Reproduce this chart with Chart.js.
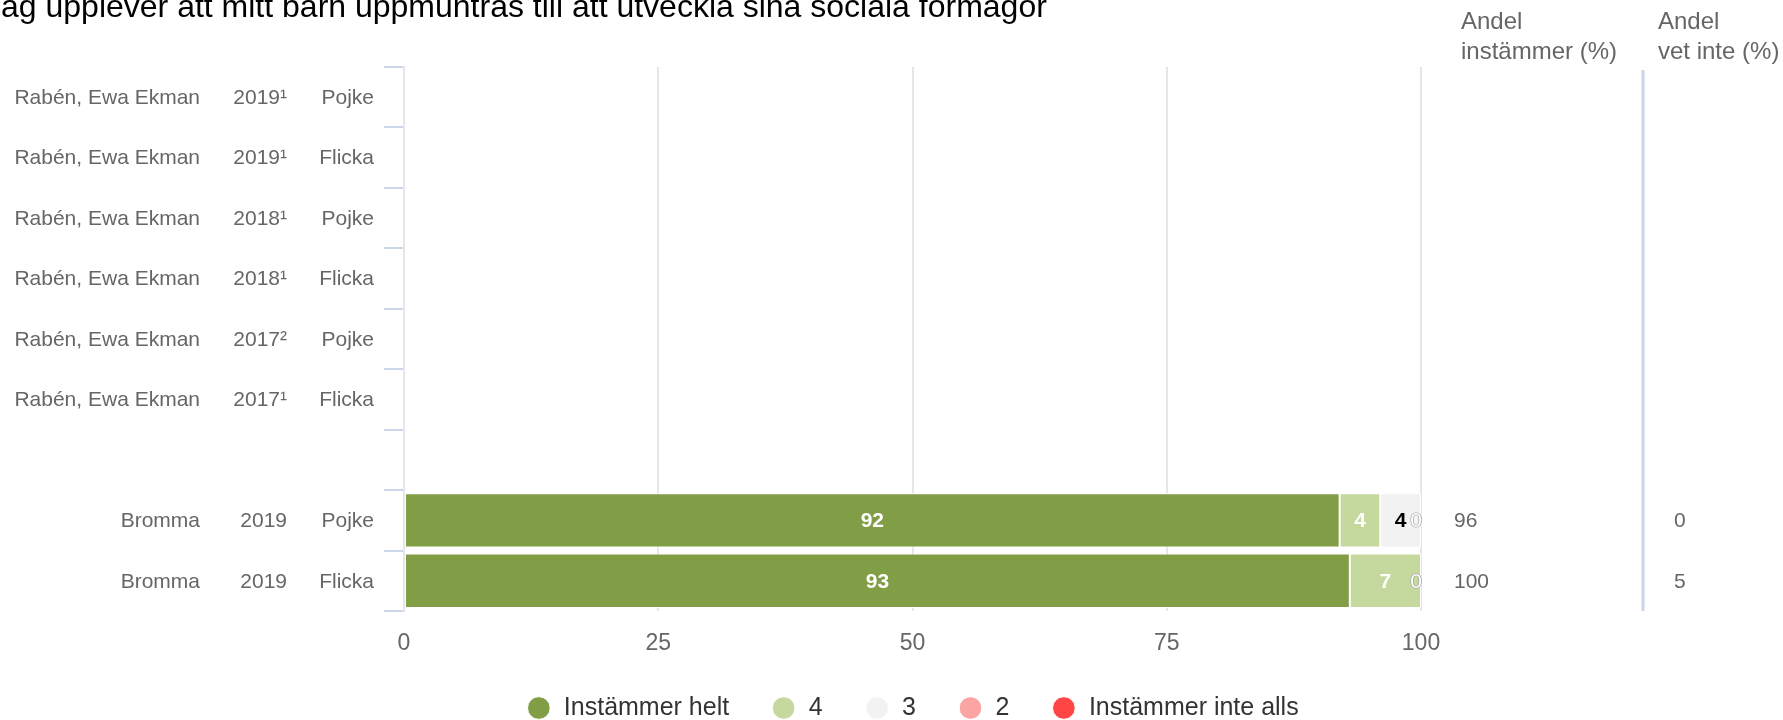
<!DOCTYPE html>
<html lang="sv">
<head>
  <meta charset="UTF-8">
  <meta name="viewport" content="width=device-width, initial-scale=1.0">
  <title>Sociala förmågor</title>
  <style>
    html, body { margin: 0; padding: 0; background: #fff; }
    #wrap { width: 1783px; height: 720px; }
  </style>
</head>
<body>
  <div id="wrap">
    <canvas id="myChart"></canvas>
  </div>

  <script src="https://cdn.jsdelivr.net/npm/chart.js"></script>

  <script>
    const title = 'Jag upplever att mitt barn uppmuntras till att utveckla sina sociala förmågor';

    // one entry per row, top to bottom (row 7 is the empty spacer)
    const names = ['Rabén, Ewa Ekman', 'Rabén, Ewa Ekman', 'Rabén, Ewa Ekman', 'Rabén, Ewa Ekman',
                   'Rabén, Ewa Ekman', 'Rabén, Ewa Ekman', '', 'Bromma', 'Bromma'];
    const years = ['2019¹', '2019¹', '2018¹', '2018¹', '2017²', '2017¹', '', '2019', '2019'];
    const genders = ['Pojke', 'Flicka', 'Pojke', 'Flicka', 'Pojke', 'Flicka', '', 'Pojke', 'Flicka'];

    const seriesNames = ['Instämmer helt', '4', '3', '2', 'Instämmer inte alls'];
    const seriesColors = ['#819d45', '#c5d89e', '#f2f2f2', '#faa4a4', '#ff4545'];

    const helt     = [null, null, null, null, null, null, null, 92, 93];
    const fyra     = [null, null, null, null, null, null, null, 4, 7];
    const tre      = [null, null, null, null, null, null, null, 4, 0];
    const tva      = [null, null, null, null, null, null, null, 0, 0];
    const inteAlls = [null, null, null, null, null, null, null, 0, 0];

    const andelInstammer = [null, null, null, null, null, null, null, 96, 100];
    const andelVetInte   = [null, null, null, null, null, null, null, 0, 5];

    const xTicks = [0, 25, 50, 75, 100];

    const FONT = '"Liberation Sans", Arial, Helvetica, sans-serif';

    const ctx = document.getElementById('myChart').getContext('2d');

    const rowLabels = names.map((n, i) => (n + ' ' + years[i] + ' ' + genders[i]).trim());

    const dataSets = [helt, fyra, tre, tva, inteAlls].map((values, i) => ({
      label: seriesNames[i],
      data: values,
      backgroundColor: seriesColors[i],
      borderColor: '#ffffff',
      borderWidth: 1,
      borderSkipped: false,
      barPercentage: 0.9,
      categoryPercentage: 1
    }));

    // title, partly cut off at the top left like the original
    const titlePlugin = {
      id: 'titlePlugin',
      afterDraw(chart) {
        const c = chart.ctx;
        c.save();
        c.font = '32px ' + FONT;
        c.fillStyle = '#000';
        c.textBaseline = 'alphabetic';
        c.textAlign = 'left';
        const jw = c.measureText('J').width;
        c.fillText(title, -jw + 1, 17);
        c.restore();
      }
    };

    // three label columns left of the axis
    const rowLabelPlugin = {
      id: 'rowLabelPlugin',
      afterDraw(chart) {
        const c = chart.ctx;
        const y = chart.scales.y;
        c.save();
        c.font = '21px ' + FONT;
        c.fillStyle = '#666';
        c.textAlign = 'right';
        c.textBaseline = 'middle';
        names.forEach((n, i) => {
          const py = y.getPixelForValue(i) + 1;
          c.fillText(n, 200, py);
          c.fillText(years[i], 287, py);
          c.fillText(genders[i], 374, py);
        });
        c.restore();
      }
    };

    // numbers inside the bars
    const barLabels = {
      id: 'barLabels',
      afterDatasetsDraw(chart) {
        const c = chart.ctx;
        c.save();
        c.textAlign = 'center';
        c.textBaseline = 'middle';
        chart.data.datasets.forEach((ds, di) => {
          const meta = chart.getDatasetMeta(di);
          meta.data.forEach((bar, i) => {
            const v = ds.data[i];
            if (v === null || v === undefined) return;
            if (v > 0) {
              c.font = 'bold 21px ' + FONT;
              c.fillStyle = di === 2 ? '#000' : '#fff';
              c.fillText(String(v), (bar.x + bar.base) / 2, bar.y + 1);
            } else if (di === 3) {
              c.font = '21px ' + FONT;
              c.lineWidth = 1.2;
              c.strokeStyle = '#999';
              c.strokeText('0', bar.x - 5, bar.y + 1);
              c.fillStyle = '#fff';
              c.fillText('0', bar.x - 5, bar.y + 1);
            }
          });
        });
        c.restore();
      }
    };

    // the two share columns on the right
    const sideColumns = {
      id: 'sideColumns',
      afterDraw(chart) {
        const c = chart.ctx;
        const y = chart.scales.y;
        const area = chart.chartArea;
        c.save();
        c.strokeStyle = '#c8d6e8';
        c.lineWidth = 3;
        c.beginPath();
        c.moveTo(1643, area.top + 3);
        c.lineTo(1643, area.bottom);
        c.stroke();

        c.font = '24px ' + FONT;
        c.fillStyle = '#666';
        c.textAlign = 'left';
        c.textBaseline = 'alphabetic';
        c.fillText('Andel', 1461, 29);
        c.fillText('instämmer (%)', 1461, 59);
        c.fillText('Andel', 1658, 29);
        c.fillText('vet inte (%)', 1658, 59);

        c.font = '21px ' + FONT;
        c.textBaseline = 'middle';
        andelInstammer.forEach((v, i) => {
          if (v === null) return;
          c.fillText(String(v), 1454, y.getPixelForValue(i) + 1);
        });
        andelVetInte.forEach((v, i) => {
          if (v === null) return;
          c.fillText(String(v), 1674, y.getPixelForValue(i) + 1);
        });
        c.restore();
      }
    };

    let chart = new Chart(ctx, {
      type: 'bar',
      data: {
        labels: rowLabels,
        datasets: dataSets
      },
      plugins: [titlePlugin, rowLabelPlugin, barLabels, sideColumns],
      options: {
        indexAxis: 'y',
        responsive: true,
        maintainAspectRatio: false,
        animation: false,
        layout: {
          padding: { top: 67, right: 362, left: 0, bottom: -10.5 }
        },
        scales: {
          x: {
            stacked: true,
            min: 0,
            max: 100,
            afterBuildTicks(axis) {
              axis.ticks = xTicks.map(v => ({ value: v }));
            },
            afterFit(axis) { axis.height = 42.5; },
            grid: { color: '#e6e6e6', lineWidth: 2, drawTicks: false },
            border: { display: false },
            ticks: {
              padding: 19,
              color: '#666',
              font: { size: 23, family: FONT }
            }
          },
          y: {
            stacked: true,
            afterFit(axis) { axis.width = 404; },
            grid: {
              offset: true,
              drawOnChartArea: false,
              color: '#ccd6eb',
              lineWidth: 2,
              tickLength: 20
            },
            border: { color: '#e6e6e6', width: 2 },
            ticks: { display: false }
          }
        },
        plugins: {
          tooltip: { enabled: false },
          legend: {
            position: 'bottom',
            fullSize: false,
            labels: {
              usePointStyle: true,
              pointStyle: 'circle',
              boxWidth: 25,
              boxHeight: 16,
              padding: 42,
              color: '#333',
              font: { size: 25, family: FONT }
            }
          }
        }
      }
    });
  </script>
</body>
</html>
